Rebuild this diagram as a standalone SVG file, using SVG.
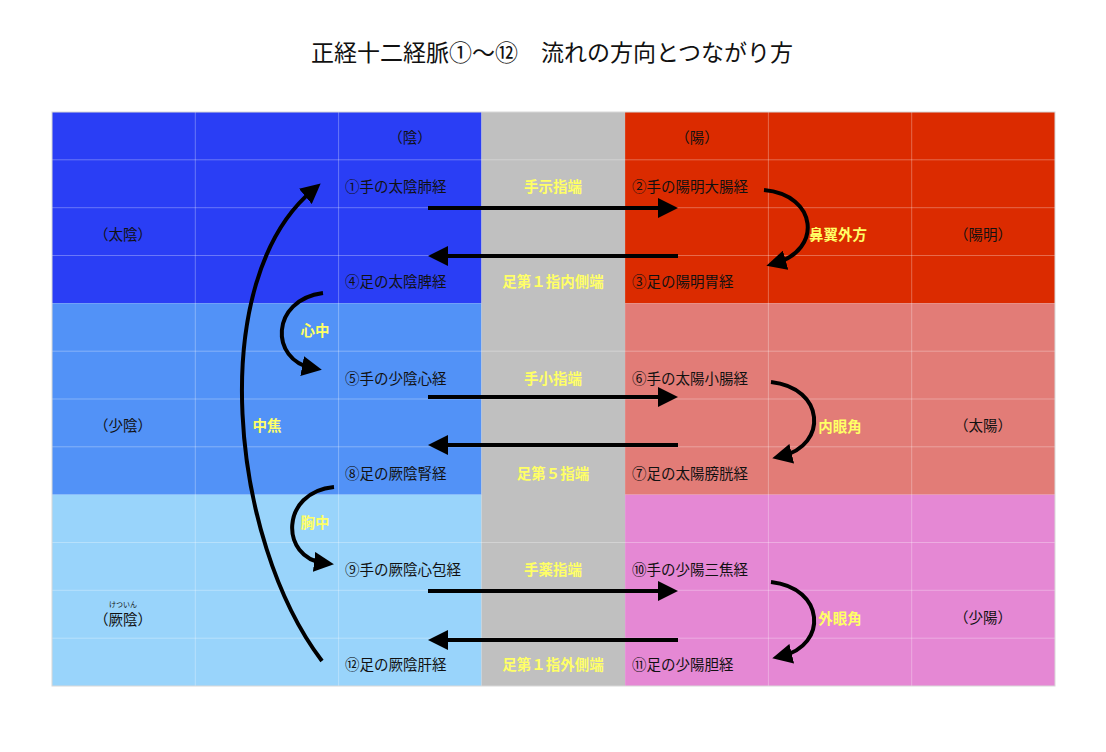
<svg xmlns="http://www.w3.org/2000/svg" width="1106" height="752" viewBox="0 0 1106 752">
<style>
text{font-family:"Noto Sans CJK JP","Noto Sans",sans-serif;}
.t{font-size:14.5px;fill:#111;dominant-baseline:central;}
.c{text-anchor:middle;}
.y{font-size:14.5px;fill:#ffff66;font-weight:700;dominant-baseline:central;text-anchor:middle;}
.g{stroke:#ffffff;stroke-opacity:0.3;stroke-width:1;fill:none;}
.a{stroke:#000;stroke-width:4;fill:none;marker-end:url(#ah);}
</style>
<defs>
<marker id="ah" markerUnits="userSpaceOnUse" viewBox="0 0 20 20" markerWidth="20" markerHeight="20" refX="10" refY="10" orient="auto">
<path d="M0,0 L20,10 L0,20 z" fill="#000"/>
</marker>
</defs>
<rect width="1106" height="752" fill="#ffffff"/>
<text x="552" y="51" font-size="23" fill="#111" text-anchor="middle" dominant-baseline="central">正経十二経脈①〜⑫　流れの方向とつながり方</text>
<g id="table">
<rect x="52" y="112" width="429.5" height="191.3" fill="#2a3ef5"/>
<rect x="52" y="303.3" width="429.5" height="191.4" fill="#5292f7"/>
<rect x="52" y="494.7" width="429.5" height="191.3" fill="#99d4fb"/>
<rect x="481.5" y="112" width="143.6" height="574" fill="#c0c0c0"/>
<rect x="625.1" y="112" width="429.9" height="191.3" fill="#db2b00"/>
<rect x="625.1" y="303.3" width="429.9" height="191.4" fill="#e27c77"/>
<rect x="625.1" y="494.7" width="429.9" height="191.3" fill="#e588d4"/>
<path class="g" d="M195.3,112V686M338.6,112V686M768.4,112V686M911.7,112V686M52,159.8H1055M52,207.7H1055M52,255.5H1055M52,351.2H1055M52,399H1055M52,446.8H1055M52,542.5H1055M52,590.3H1055M52,638.2H1055"/>
<rect x="52" y="112" width="1003" height="574" fill="none" stroke="#d8d8d8" stroke-width="1"/>
</g>
<g id="headers">
<text class="t c" x="410" y="136">（陰）</text>
<text class="t c" x="697" y="136">（陽）</text>
<text class="t c" x="123" y="233">（太陰）</text>
<text class="t c" x="123" y="424">（少陰）</text>
<text class="t c" x="123" y="618">（厥陰）</text>
<text x="123" y="604" font-size="7" fill="#111" text-anchor="middle" dominant-baseline="central">けついん</text>
<text class="t c" x="983" y="233">（陽明）</text>
<text class="t c" x="983" y="424">（太陽）</text>
<text class="t c" x="983" y="616">（少陽）</text>
</g>
<g id="n1"><text class="t" x="345" y="185">①手の太陰肺経</text></g>
<g id="n2"><text class="t" x="632" y="185">②手の陽明大腸経</text></g>
<g id="n3"><text class="t" x="632" y="280">③足の陽明胃経</text></g>
<g id="n4"><text class="t" x="345" y="280">④足の太陰脾経</text></g>
<g id="n5"><text class="t" x="345" y="377">⑤手の少陰心経</text></g>
<g id="n6"><text class="t" x="632" y="377">⑥手の太陽小腸経</text></g>
<g id="n7"><text class="t" x="632" y="472">⑦足の太陽膀胱経</text></g>
<g id="n8"><text class="t" x="345" y="472">⑧足の厥陰腎経</text></g>
<g id="n9"><text class="t" x="345" y="568">⑨手の厥陰心包経</text></g>
<g id="n10"><text class="t" x="632" y="568">⑩手の少陽三焦経</text></g>
<g id="n11"><text class="t" x="632" y="663">⑪足の少陽胆経</text></g>
<g id="n12"><text class="t" x="345" y="663">⑫足の厥陰肝経</text></g>
<g id="labels">
<text class="y" x="553" y="185">手示指端</text>
<text class="y" x="553" y="280">足第１指内側端</text>
<text class="y" x="553" y="377">手小指端</text>
<text class="y" x="553" y="472">足第５指端</text>
<text class="y" x="553" y="568">手薬指端</text>
<text class="y" x="553" y="663">足第１指外側端</text>
<text class="y" x="838" y="233">鼻翼外方</text>
<text class="y" x="840" y="425">内眼角</text>
<text class="y" x="840" y="617">外眼角</text>
<text class="y" x="315" y="329" fill="#ffffa8">心中</text>
<text class="y" x="315" y="521" fill="#ffffa8">胸中</text>
<text class="y" x="267" y="424">中焦</text>
</g>
<g id="connectors">
<path class="a" d="M428,208 L668,208"/>
<path class="a" d="M678,256 L438,256"/>
<path class="a" d="M428,397 L668,397"/>
<path class="a" d="M678,445 L438,445"/>
<path class="a" d="M428,591 L668,591"/>
<path class="a" d="M678,640 L438,640"/>
<path class="a" d="M322,661 C230,540 205,280 313,190"/>
<path class="a" d="M323,293 C270,300 270,360 312,368"/>
<path class="a" d="M334,487 C280,492 280,558 324,563"/>
<path class="a" d="M764,190 C818,195 822,250 776,263"/>
<path class="a" d="M771,382 C825,388 828,445 782,456"/>
<path class="a" d="M771,582 C825,588 828,645 782,656"/>
</g>
</svg>
